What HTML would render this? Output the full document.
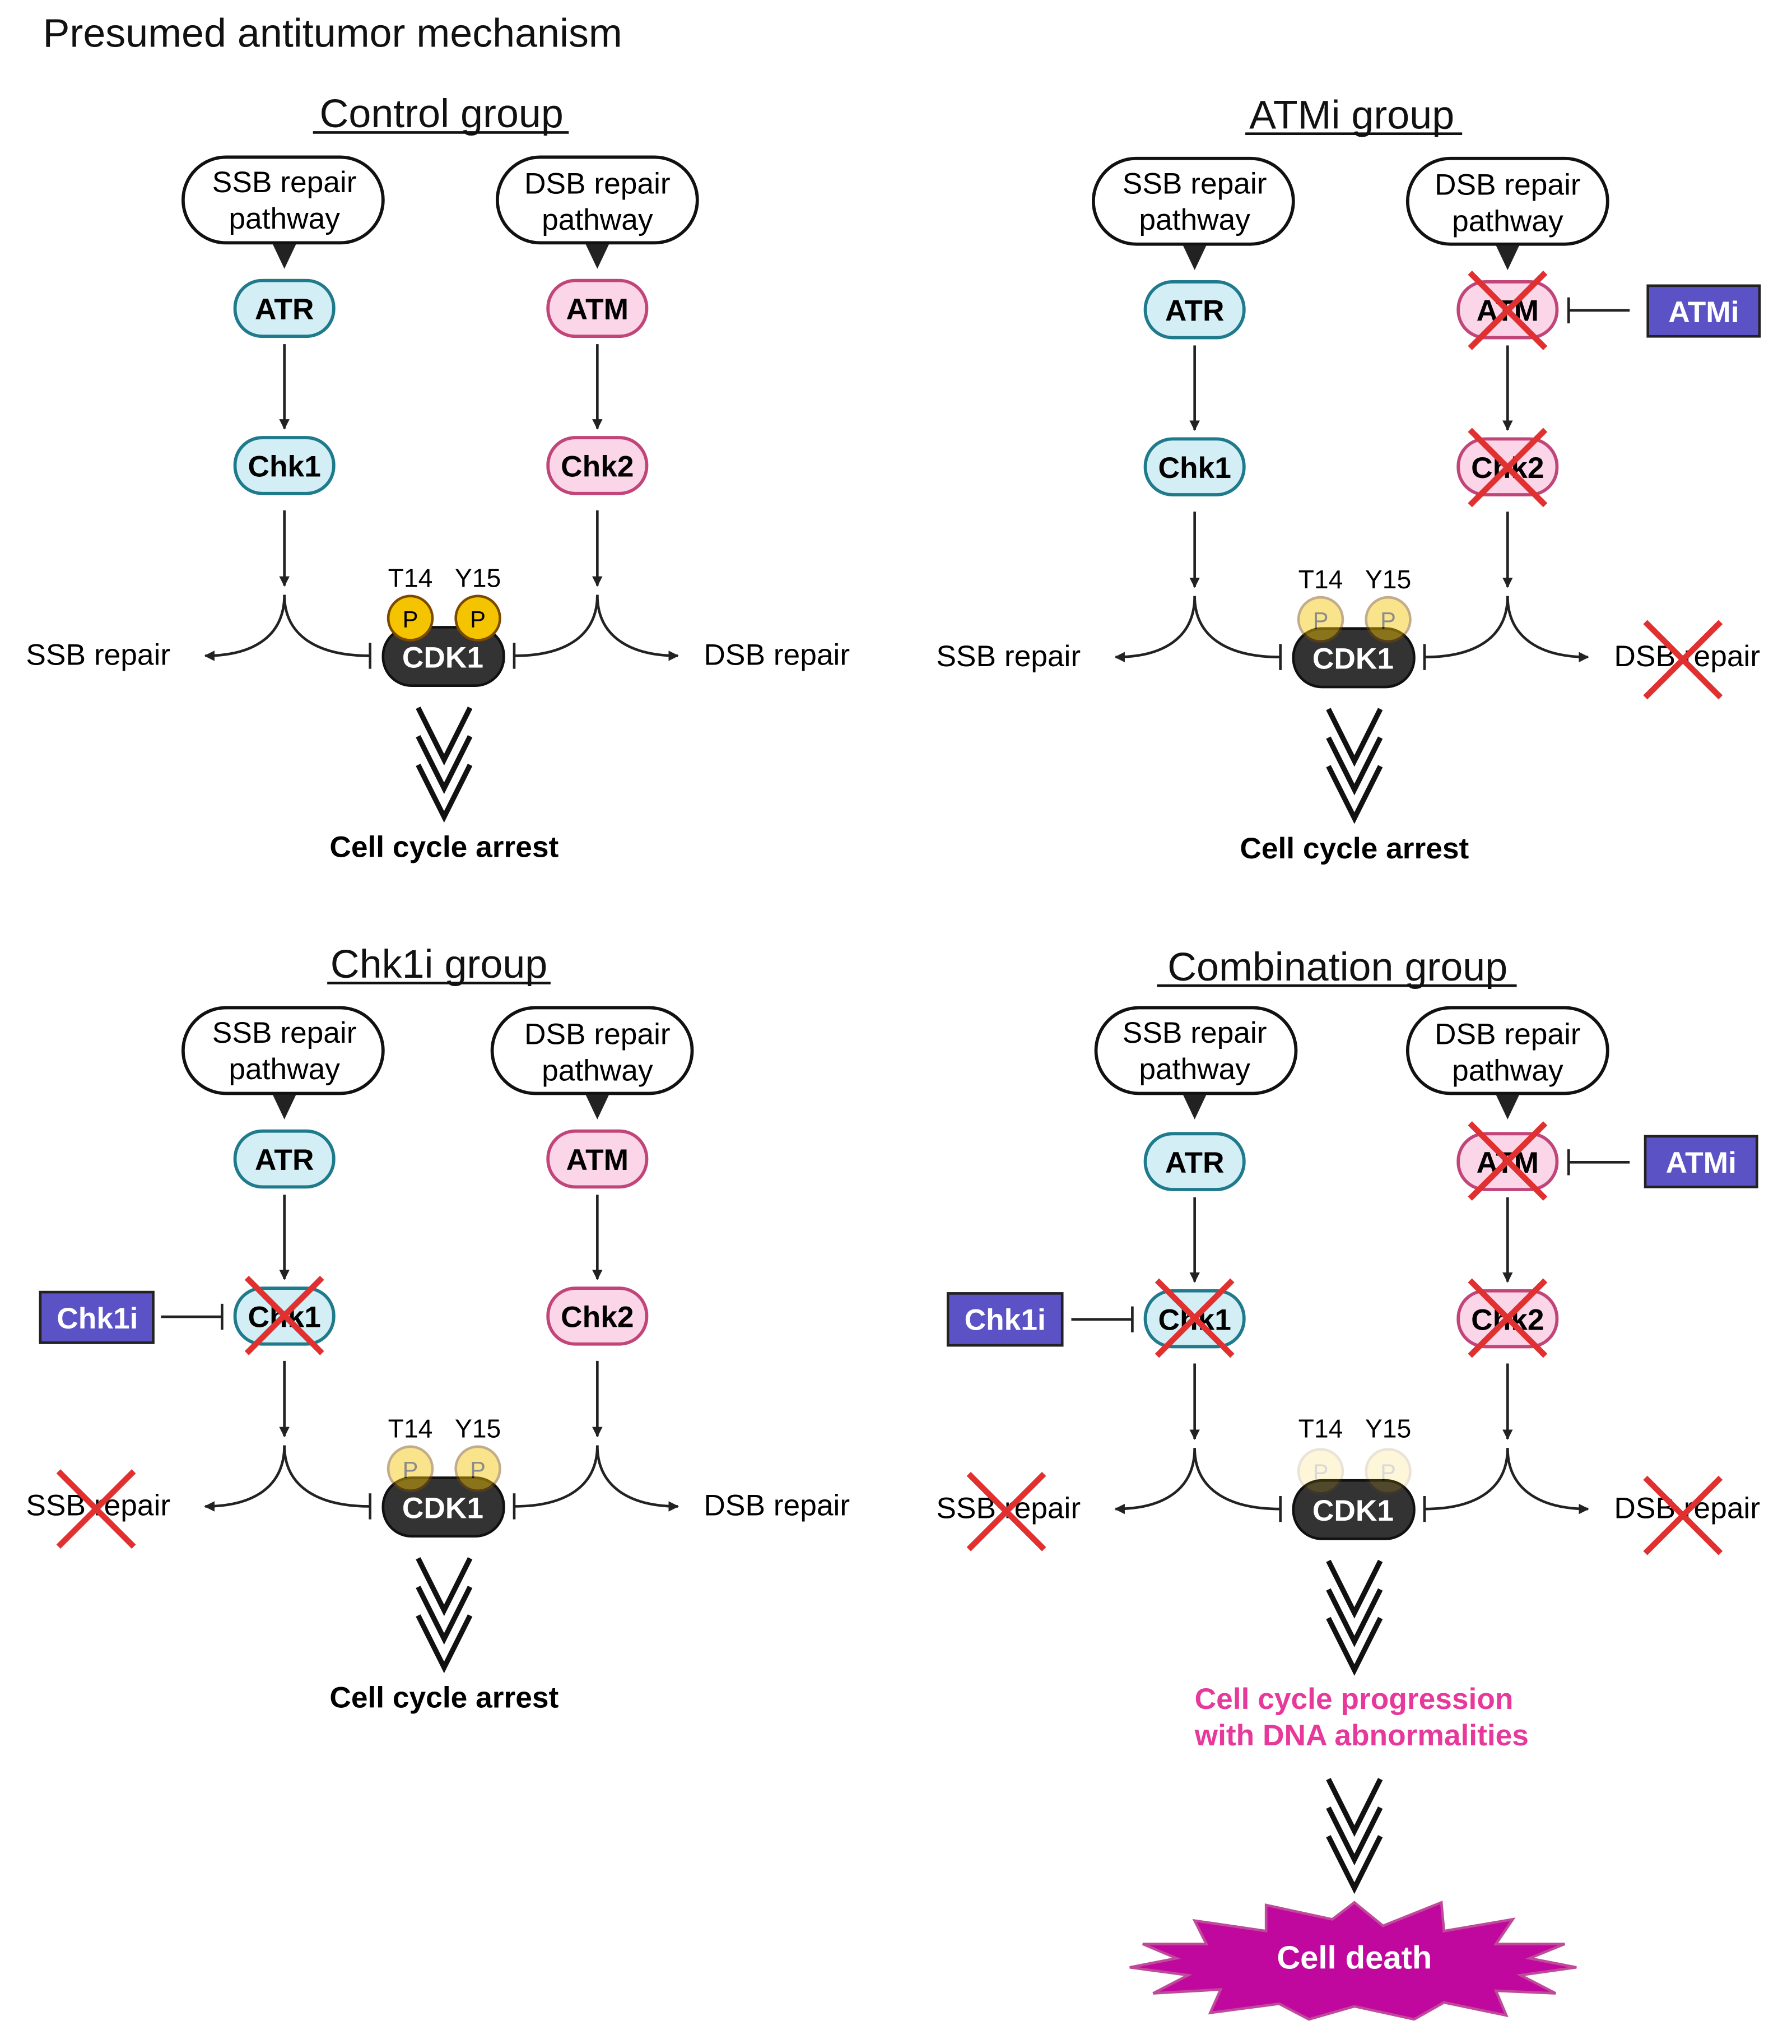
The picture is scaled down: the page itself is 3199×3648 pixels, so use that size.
<!DOCTYPE html>
<html><head><meta charset="utf-8"><style>html,body{margin:0;padding:0;background:#fff}svg{display:block}text{font-family:"Liberation Sans",sans-serif}</style></head>
<body>
<svg width="3199" height="3648" viewBox="0 0 1380 1574" preserveAspectRatio="none" xmlns="http://www.w3.org/2000/svg">
<defs>
<marker id="ar" viewBox="0 0 10 10" refX="9" refY="5" markerWidth="4" markerHeight="4" orient="auto"><path d="M0,0L10,5L0,10z" fill="#222"/></marker>
</defs>
<rect width="1380" height="1574" fill="#fff"/>
<text x="33" y="36" font-size="31" fill="#111">Presumed antitumor mechanism</text>

<!-- CONTROL -->
<g>
<text x="340" y="98" font-size="31" text-anchor="middle" fill="#111">Control group</text>
<line x1="241" y1="102" x2="438" y2="102" stroke="#111" stroke-width="2"/>
<rect x="141" y="121" width="154" height="66" rx="33" fill="#fff" stroke="#111" stroke-width="2.5"/>
<text x="219" y="148" font-size="23" text-anchor="middle">SSB repair</text><text x="219" y="176" font-size="23" text-anchor="middle">pathway</text>
<path d="M210,188L228,188L219,207z" fill="#222"/>
<rect x="383" y="121" width="154" height="66" rx="33" fill="#fff" stroke="#111" stroke-width="2.5"/>
<text x="460" y="149" font-size="23" text-anchor="middle">DSB repair</text><text x="460" y="177" font-size="23" text-anchor="middle">pathway</text>
<path d="M451,188L469,188L460,207z" fill="#222"/>
<rect x="181" y="216" width="76" height="43" rx="21" fill="#d3eff5" stroke="#1f7a8c" stroke-width="2.5"/><text x="219" y="246" font-size="23" font-weight="bold" text-anchor="middle">ATR</text>
<rect x="422" y="216" width="76" height="43" rx="21" fill="#fbd5e8" stroke="#c2457a" stroke-width="2.5"/><text x="460" y="246" font-size="23" font-weight="bold" text-anchor="middle">ATM</text>
<line x1="219" y1="265" x2="219" y2="330" stroke="#222" stroke-width="2" marker-end="url(#ar)"/>
<line x1="460" y1="265" x2="460" y2="330" stroke="#222" stroke-width="2" marker-end="url(#ar)"/>
<rect x="181" y="337" width="76" height="43" rx="21" fill="#d3eff5" stroke="#1f7a8c" stroke-width="2.5"/><text x="219" y="367" font-size="23" font-weight="bold" text-anchor="middle">Chk1</text>
<rect x="422" y="337" width="76" height="43" rx="21" fill="#fbd5e8" stroke="#c2457a" stroke-width="2.5"/><text x="460" y="367" font-size="23" font-weight="bold" text-anchor="middle">Chk2</text>
<line x1="219" y1="393" x2="219" y2="451" stroke="#222" stroke-width="2" marker-end="url(#ar)"/>
<line x1="460" y1="393" x2="460" y2="451" stroke="#222" stroke-width="2" marker-end="url(#ar)"/>
<path d="M219,458C219,490 195,505 158,505" fill="none" stroke="#222" stroke-width="2" marker-end="url(#ar)"/>
<path d="M219,458C219,490 245,505 285,505M285,495V515" fill="none" stroke="#222" stroke-width="2"/>
<path d="M460,458C460,490 485,505 522,505" fill="none" stroke="#222" stroke-width="2" marker-end="url(#ar)"/>
<path d="M460,458C460,490 435,505 396,505M396,495V515" fill="none" stroke="#222" stroke-width="2"/>
<text x="20" y="512" font-size="23">SSB repair</text><text x="542" y="512" font-size="23">DSB repair</text>
<rect x="295" y="483" width="93" height="45" rx="22" fill="#333" stroke="#111" stroke-width="2"/>
<text x="341" y="514" font-size="23" font-weight="bold" fill="#fff" text-anchor="middle">CDK1</text>
<text x="316" y="452" font-size="20" text-anchor="middle">T14</text><text x="368" y="452" font-size="20" text-anchor="middle">Y15</text>
<g><circle cx="316" cy="476" r="17" fill="#f5c400" stroke="#7a4a00" stroke-width="2"/><circle cx="368" cy="476" r="17" fill="#f5c400" stroke="#7a4a00" stroke-width="2"/>
<text x="316" y="483" font-size="18" text-anchor="middle">P</text><text x="368" y="483" font-size="18" text-anchor="middle">P</text></g>
<path d="M322,545L342,585L362,545M322,567L342,607L362,567M322,589L342,629L362,589" fill="none" stroke="#111" stroke-width="4"/>
<text x="342" y="660" font-size="23" font-weight="bold" text-anchor="middle">Cell cycle arrest</text>
</g>

<!-- ATMi -->
<g transform="translate(701,1)">
<text x="340" y="98" font-size="31" text-anchor="middle" fill="#111">ATMi group</text>
<line x1="258" y1="102" x2="425" y2="102" stroke="#111" stroke-width="2"/>
<rect x="141" y="121" width="154" height="66" rx="33" fill="#fff" stroke="#111" stroke-width="2.5"/>
<text x="219" y="148" font-size="23" text-anchor="middle">SSB repair</text><text x="219" y="176" font-size="23" text-anchor="middle">pathway</text>
<path d="M210,188L228,188L219,207z" fill="#222"/>
<rect x="383" y="121" width="154" height="66" rx="33" fill="#fff" stroke="#111" stroke-width="2.5"/>
<text x="460" y="149" font-size="23" text-anchor="middle">DSB repair</text><text x="460" y="177" font-size="23" text-anchor="middle">pathway</text>
<path d="M451,188L469,188L460,207z" fill="#222"/>
<rect x="181" y="216" width="76" height="43" rx="21" fill="#d3eff5" stroke="#1f7a8c" stroke-width="2.5"/><text x="219" y="246" font-size="23" font-weight="bold" text-anchor="middle">ATR</text>
<rect x="422" y="216" width="76" height="43" rx="21" fill="#fbd5e8" stroke="#c2457a" stroke-width="2.5"/><text x="460" y="246" font-size="23" font-weight="bold" text-anchor="middle">ATM</text>
<line x1="219" y1="265" x2="219" y2="330" stroke="#222" stroke-width="2" marker-end="url(#ar)"/>
<line x1="460" y1="265" x2="460" y2="330" stroke="#222" stroke-width="2" marker-end="url(#ar)"/>
<rect x="181" y="337" width="76" height="43" rx="21" fill="#d3eff5" stroke="#1f7a8c" stroke-width="2.5"/><text x="219" y="367" font-size="23" font-weight="bold" text-anchor="middle">Chk1</text>
<rect x="422" y="337" width="76" height="43" rx="21" fill="#fbd5e8" stroke="#c2457a" stroke-width="2.5"/><text x="460" y="367" font-size="23" font-weight="bold" text-anchor="middle">Chk2</text>
<line x1="219" y1="393" x2="219" y2="451" stroke="#222" stroke-width="2" marker-end="url(#ar)"/>
<line x1="460" y1="393" x2="460" y2="451" stroke="#222" stroke-width="2" marker-end="url(#ar)"/>
<path d="M219,458C219,490 195,505 158,505" fill="none" stroke="#222" stroke-width="2" marker-end="url(#ar)"/>
<path d="M219,458C219,490 245,505 285,505M285,495V515" fill="none" stroke="#222" stroke-width="2"/>
<path d="M460,458C460,490 485,505 522,505" fill="none" stroke="#222" stroke-width="2" marker-end="url(#ar)"/>
<path d="M460,458C460,490 435,505 396,505M396,495V515" fill="none" stroke="#222" stroke-width="2"/>
<text x="20" y="512" font-size="23">SSB repair</text><text x="542" y="512" font-size="23">DSB repair</text>
<rect x="295" y="483" width="93" height="45" rx="22" fill="#333" stroke="#111" stroke-width="2"/>
<text x="341" y="514" font-size="23" font-weight="bold" fill="#fff" text-anchor="middle">CDK1</text>
<text x="316" y="452" font-size="20" text-anchor="middle">T14</text><text x="368" y="452" font-size="20" text-anchor="middle">Y15</text>
<g opacity="0.45"><circle cx="316" cy="476" r="17" fill="#f5c400" stroke="#7a4a00" stroke-width="2"/><circle cx="368" cy="476" r="17" fill="#f5c400" stroke="#7a4a00" stroke-width="2"/>
<text x="316" y="483" font-size="18" text-anchor="middle">P</text><text x="368" y="483" font-size="18" text-anchor="middle">P</text></g>
<path d="M322,545L342,585L362,545M322,567L342,607L362,567M322,589L342,629L362,589" fill="none" stroke="#111" stroke-width="4"/>
<text x="342" y="660" font-size="23" font-weight="bold" text-anchor="middle">Cell cycle arrest</text>
<path d="M431,209L489,267M489,209L431,267M431,330L489,388M489,330L431,388M566,478L624,536M624,478L566,536" stroke="#e03030" stroke-width="4.5"/>
<path d="M554,238H507M507,228V248" stroke="#222" stroke-width="2" fill="none"/>
<rect x="568" y="219" width="86" height="39" fill="#5b52c6" stroke="#222" stroke-width="2"/>
<text x="611" y="247" font-size="23" font-weight="bold" fill="#fff" text-anchor="middle">ATMi</text>
</g>

<!-- Chk1i -->
<g transform="translate(0,655)">
<text x="338" y="98" font-size="31" text-anchor="middle" fill="#111">Chk1i group</text>
<line x1="252" y1="102" x2="424" y2="102" stroke="#111" stroke-width="2"/>
<rect x="141" y="121" width="154" height="66" rx="33" fill="#fff" stroke="#111" stroke-width="2.5"/>
<text x="219" y="148" font-size="23" text-anchor="middle">SSB repair</text><text x="219" y="176" font-size="23" text-anchor="middle">pathway</text>
<path d="M210,188L228,188L219,207z" fill="#222"/>
<rect x="379" y="121" width="154" height="66" rx="33" fill="#fff" stroke="#111" stroke-width="2.5"/>
<text x="460" y="149" font-size="23" text-anchor="middle">DSB repair</text><text x="460" y="177" font-size="23" text-anchor="middle">pathway</text>
<path d="M451,188L469,188L460,207z" fill="#222"/>
<rect x="181" y="216" width="76" height="43" rx="21" fill="#d3eff5" stroke="#1f7a8c" stroke-width="2.5"/><text x="219" y="246" font-size="23" font-weight="bold" text-anchor="middle">ATR</text>
<rect x="422" y="216" width="76" height="43" rx="21" fill="#fbd5e8" stroke="#c2457a" stroke-width="2.5"/><text x="460" y="246" font-size="23" font-weight="bold" text-anchor="middle">ATM</text>
<line x1="219" y1="265" x2="219" y2="330" stroke="#222" stroke-width="2" marker-end="url(#ar)"/>
<line x1="460" y1="265" x2="460" y2="330" stroke="#222" stroke-width="2" marker-end="url(#ar)"/>
<rect x="181" y="337" width="76" height="43" rx="21" fill="#d3eff5" stroke="#1f7a8c" stroke-width="2.5"/><text x="219" y="367" font-size="23" font-weight="bold" text-anchor="middle">Chk1</text>
<rect x="422" y="337" width="76" height="43" rx="21" fill="#fbd5e8" stroke="#c2457a" stroke-width="2.5"/><text x="460" y="367" font-size="23" font-weight="bold" text-anchor="middle">Chk2</text>
<line x1="219" y1="393" x2="219" y2="451" stroke="#222" stroke-width="2" marker-end="url(#ar)"/>
<line x1="460" y1="393" x2="460" y2="451" stroke="#222" stroke-width="2" marker-end="url(#ar)"/>
<path d="M219,458C219,490 195,505 158,505" fill="none" stroke="#222" stroke-width="2" marker-end="url(#ar)"/>
<path d="M219,458C219,490 245,505 285,505M285,495V515" fill="none" stroke="#222" stroke-width="2"/>
<path d="M460,458C460,490 485,505 522,505" fill="none" stroke="#222" stroke-width="2" marker-end="url(#ar)"/>
<path d="M460,458C460,490 435,505 396,505M396,495V515" fill="none" stroke="#222" stroke-width="2"/>
<text x="20" y="512" font-size="23">SSB repair</text><text x="542" y="512" font-size="23">DSB repair</text>
<rect x="295" y="483" width="93" height="45" rx="22" fill="#333" stroke="#111" stroke-width="2"/>
<text x="341" y="514" font-size="23" font-weight="bold" fill="#fff" text-anchor="middle">CDK1</text>
<text x="316" y="452" font-size="20" text-anchor="middle">T14</text><text x="368" y="452" font-size="20" text-anchor="middle">Y15</text>
<g opacity="0.45"><circle cx="316" cy="476" r="17" fill="#f5c400" stroke="#7a4a00" stroke-width="2"/><circle cx="368" cy="476" r="17" fill="#f5c400" stroke="#7a4a00" stroke-width="2"/>
<text x="316" y="483" font-size="18" text-anchor="middle">P</text><text x="368" y="483" font-size="18" text-anchor="middle">P</text></g>
<path d="M322,545L342,585L362,545M322,567L342,607L362,567M322,589L342,629L362,589" fill="none" stroke="#111" stroke-width="4"/>
<text x="342" y="660" font-size="23" font-weight="bold" text-anchor="middle">Cell cycle arrest</text>
<path d="M190,329L248,387M248,329L190,387M45,478L103,536M103,478L45,536" stroke="#e03030" stroke-width="4.5"/>
<path d="M124,359H171M171,349V369" stroke="#222" stroke-width="2" fill="none"/>
<rect x="31" y="340" width="87" height="39" fill="#5b52c6" stroke="#222" stroke-width="2"/>
<text x="75" y="368" font-size="23" font-weight="bold" fill="#fff" text-anchor="middle">Chk1i</text>
</g>

<!-- Combination -->
<g transform="translate(701,657)">
<text x="329" y="98" font-size="31" text-anchor="middle" fill="#111">Combination group</text>
<line x1="190" y1="102" x2="467" y2="102" stroke="#111" stroke-width="2"/>
<rect x="143" y="119" width="154" height="66" rx="33" fill="#fff" stroke="#111" stroke-width="2.5"/>
<text x="219" y="146" font-size="23" text-anchor="middle">SSB repair</text><text x="219" y="174" font-size="23" text-anchor="middle">pathway</text>
<path d="M210,186L228,186L219,205z" fill="#222"/>
<rect x="383" y="119" width="154" height="66" rx="33" fill="#fff" stroke="#111" stroke-width="2.5"/>
<text x="460" y="147" font-size="23" text-anchor="middle">DSB repair</text><text x="460" y="175" font-size="23" text-anchor="middle">pathway</text>
<path d="M451,186L469,186L460,205z" fill="#222"/>
<rect x="181" y="216" width="76" height="43" rx="21" fill="#d3eff5" stroke="#1f7a8c" stroke-width="2.5"/><text x="219" y="246" font-size="23" font-weight="bold" text-anchor="middle">ATR</text>
<rect x="422" y="216" width="76" height="43" rx="21" fill="#fbd5e8" stroke="#c2457a" stroke-width="2.5"/><text x="460" y="246" font-size="23" font-weight="bold" text-anchor="middle">ATM</text>
<line x1="219" y1="265" x2="219" y2="330" stroke="#222" stroke-width="2" marker-end="url(#ar)"/>
<line x1="460" y1="265" x2="460" y2="330" stroke="#222" stroke-width="2" marker-end="url(#ar)"/>
<rect x="181" y="337" width="76" height="43" rx="21" fill="#d3eff5" stroke="#1f7a8c" stroke-width="2.5"/><text x="219" y="367" font-size="23" font-weight="bold" text-anchor="middle">Chk1</text>
<rect x="422" y="337" width="76" height="43" rx="21" fill="#fbd5e8" stroke="#c2457a" stroke-width="2.5"/><text x="460" y="367" font-size="23" font-weight="bold" text-anchor="middle">Chk2</text>
<line x1="219" y1="393" x2="219" y2="451" stroke="#222" stroke-width="2" marker-end="url(#ar)"/>
<line x1="460" y1="393" x2="460" y2="451" stroke="#222" stroke-width="2" marker-end="url(#ar)"/>
<path d="M219,458C219,490 195,505 158,505" fill="none" stroke="#222" stroke-width="2" marker-end="url(#ar)"/>
<path d="M219,458C219,490 245,505 285,505M285,495V515" fill="none" stroke="#222" stroke-width="2"/>
<path d="M460,458C460,490 485,505 522,505" fill="none" stroke="#222" stroke-width="2" marker-end="url(#ar)"/>
<path d="M460,458C460,490 435,505 396,505M396,495V515" fill="none" stroke="#222" stroke-width="2"/>
<text x="20" y="512" font-size="23">SSB repair</text><text x="542" y="512" font-size="23">DSB repair</text>
<rect x="295" y="483" width="93" height="45" rx="22" fill="#333" stroke="#111" stroke-width="2"/>
<text x="341" y="514" font-size="23" font-weight="bold" fill="#fff" text-anchor="middle">CDK1</text>
<text x="316" y="450" font-size="20" text-anchor="middle">T14</text><text x="368" y="450" font-size="20" text-anchor="middle">Y15</text>
<g opacity="0.15"><circle cx="316" cy="476" r="17" fill="#f5c400" stroke="#7a4a00" stroke-width="2"/><circle cx="368" cy="476" r="17" fill="#f5c400" stroke="#7a4a00" stroke-width="2"/>
<text x="316" y="483" font-size="18" text-anchor="middle">P</text><text x="368" y="483" font-size="18" text-anchor="middle">P</text></g>
<path d="M322,545L342,585L362,545M322,567L342,607L362,567M322,589L342,629L362,589" fill="none" stroke="#111" stroke-width="4"/>
<path d="M190,329L248,387M248,329L190,387M431,208L489,266M489,208L431,266M431,329L489,387M489,329L431,387M45,478L103,536M103,478L45,536M566,481L624,539M624,481L566,539" stroke="#e03030" stroke-width="4.5"/>
<path d="M124,359H171M171,349V369" stroke="#222" stroke-width="2" fill="none"/>
<rect x="29" y="339" width="88" height="40" fill="#5b52c6" stroke="#222" stroke-width="2"/>
<text x="73" y="367" font-size="23" font-weight="bold" fill="#fff" text-anchor="middle">Chk1i</text>
<path d="M554,238H507M507,228V248" stroke="#222" stroke-width="2" fill="none"/>
<rect x="566" y="218" width="86" height="39" fill="#5b52c6" stroke="#222" stroke-width="2"/>
<text x="609" y="246" font-size="23" font-weight="bold" fill="#fff" text-anchor="middle">ATMi</text>
<text x="219" y="659" font-size="23" font-weight="bold" fill="#e6399b">Cell cycle progression</text>
<text x="219" y="687" font-size="23" font-weight="bold" fill="#e6399b">with DNA abnormalities</text>
<path d="M322,713L342,753L362,713M322,735L342,775L362,735M322,757L342,797L362,757" fill="none" stroke="#111" stroke-width="4"/>
</g>
<path d="M1043,1465L1065,1483L1110,1465L1112,1487L1165,1478L1152,1497L1205,1497L1178,1508L1214,1515L1171,1521L1198,1535L1152,1533L1160,1552L1112,1542L1089,1555L1043,1545L1008,1555L985,1543L932,1550L940,1532L888,1535L915,1521L870,1515L906,1508L880,1497L929,1497L920,1479L975,1487L975,1467L1026,1478Z" fill="#c0089e" stroke="#c04a9a" stroke-width="2"/>
<text x="1043" y="1516" font-size="25" font-weight="bold" fill="#fff" text-anchor="middle">Cell death</text>
</svg>
</body></html>
